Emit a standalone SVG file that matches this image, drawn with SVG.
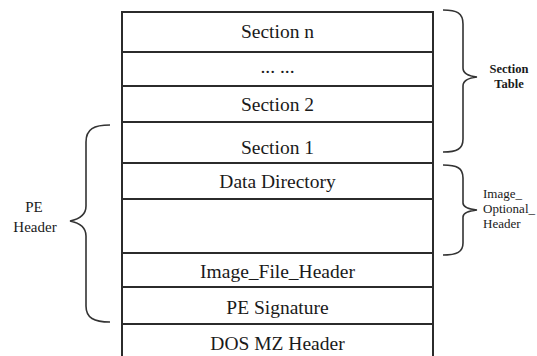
<svg xmlns="http://www.w3.org/2000/svg" width="537" height="356" viewBox="0 0 537 356">
<style>
.ln{stroke:#2b2b2b;stroke-width:2;fill:none}
.br{stroke:#333;stroke-width:1.6;fill:none}
.t{font-family:"Liberation Serif","Times New Roman",serif;font-size:19.5px;fill:#1a1a1a;text-anchor:middle}
.s{font-family:"Liberation Serif","Times New Roman",serif;font-size:13px;fill:#1a1a1a}
.m{text-anchor:middle}
.pe{font-size:15px}
.st{font-size:12.5px;font-weight:bold}
</style>
<rect width="537" height="356" fill="#fff"/>
<g id="frame">
<line class="ln" x1="122" y1="11" x2="122" y2="356"/>
<line class="ln" x1="433" y1="11" x2="433" y2="356"/>
<line class="ln" x1="121" y1="12" x2="434" y2="12"/>
</g>
<g id="section-n"><line class="ln" x1="122" y1="52" x2="433" y2="52"/><text class="t" x="277.5" y="38">Section n</text></g>
<g id="dots"><line class="ln" x1="122" y1="86" x2="433" y2="86"/><text class="t" x="277.5" y="73">... ...</text></g>
<g id="section-2"><line class="ln" x1="122" y1="122" x2="433" y2="122"/><text class="t" x="277.5" y="111">Section 2</text></g>
<g id="section-1"><line class="ln" x1="122" y1="163" x2="433" y2="163"/><text class="t" x="277.5" y="154">Section 1</text></g>
<g id="data-directory"><line class="ln" x1="122" y1="199" x2="433" y2="199"/><text class="t" x="277.5" y="188">Data Directory</text></g>
<g id="optional-blank"><line class="ln" x1="122" y1="253" x2="433" y2="253"/></g>
<g id="image-file-header"><line class="ln" x1="122" y1="287" x2="433" y2="287"/><text class="t" x="277.5" y="278">Image_File_Header</text></g>
<g id="pe-signature"><line class="ln" x1="122" y1="324" x2="433" y2="324"/><text class="t" x="277.5" y="314">PE Signature</text></g>
<g id="dos-mz-header"><text class="t" x="277.5" y="350">DOS MZ Header</text></g>
<g id="pe-header">
<path class="br" d="M110,125 C94,125 86,129 86,142 L86,206 C86,214 80,219 70,221 C80,223 86,228 86,236 L86,306 C86,318 94,322 110,322"/>
<text class="s m pe" x="34" y="212">PE</text>
<text class="s m pe" x="35" y="232">Header</text>
</g>
<g id="section-table">
<path class="br" d="M443,10 C457,10 463,13 463,24 L463,68 C463,73 468,76 477,77 C468,78 463,81 463,86 L463,139 C463,149 457,152 443,152"/>
<text class="s m st" x="509" y="73">Section</text>
<text class="s m st" x="509" y="88">Table</text>
</g>
<g id="image-optional-header">
<path class="br" d="M443,165 C457,165 463,168 463,178 L463,203 C463,207 468,209 477,210 C468,211 463,213 463,217 L463,243 C463,252 457,255 443,255"/>
<text class="s" x="483" y="198">Image_</text>
<text class="s" x="483" y="213">Optional_</text>
<text class="s" x="483" y="228">Header</text>
</g>
</svg>
